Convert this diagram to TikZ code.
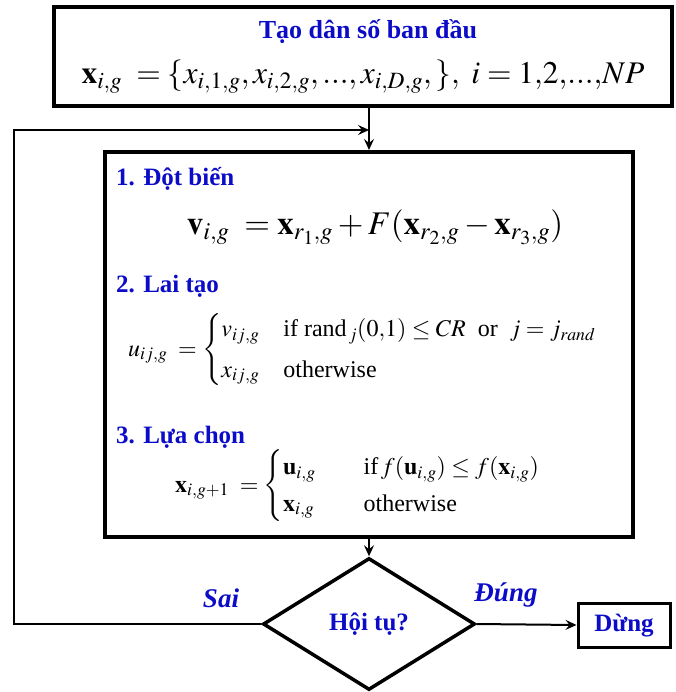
\documentclass[tikz,border=0pt]{standalone}
\usepackage{amsmath}
\usepackage{mathptmx}
\usepackage{fontspec}
\setmainfont{Liberation Serif}
\newfontfamily\tnr{Liberation Serif}
\usetikzlibrary{shapes.geometric,arrows.meta}
\definecolor{hblue}{RGB}{12,12,200}
\tikzset{
  box/.style={draw=black, line width=4pt, rectangle, inner sep=0pt},
  head/.style={text=hblue, inner sep=0pt, font=\tnr\fontsize{25}{29}\selectfont\bfseries},
  lab/.style={text=hblue, inner sep=0pt, font=\tnr\fontsize{27}{30}\selectfont\bfseries\itshape},
  bigmath/.style={inner sep=0pt, font=\tnr\fontsize{31.5}{35}\selectfont},
  vmath/.style={inner sep=0pt, font=\tnr\fontsize{33}{37}\selectfont},
  midmath/.style={inner sep=0pt, font=\tnr\fontsize{24}{28}\selectfont},
  arr/.style={line width=2pt, -{Stealth[length=11pt,width=10pt,inset=4pt]}},
}
\begin{document}
\begin{tikzpicture}[x=1pt,y=-1pt]
\useasboundingbox (0,0) rectangle (675,692);
% boxes
\node[box, minimum width=618pt, minimum height=99pt] (top) at (363,56.5) {};
\node[box, minimum width=528pt, minimum height=385pt] (main) at (369,344.5) {};
\node[draw, line width=3.5pt, diamond, aspect=1.6, minimum width=212pt, minimum height=132pt, inner sep=0pt] (dia) at (369,624) {};
\node[box, line width=3pt, minimum width=92pt, minimum height=44pt] (stop) at (624,625) {};
% texts
\node[head, font=\tnr\fontsize{26}{30}\selectfont\bfseries] (t0) at (368,32) {Tạo dân số ban đầu};
\node[bigmath] (f0) at (363,77) {$\mathbf{x}_{i,g}\;=\{x_{i,1,g},x_{i,2,g},...,x_{i,D,g},\},\ i=1{,}2{,}...{,}NP$};
\node[head, anchor=west] (h1) at (116,179) {1. Đột biến};
\node[vmath] (f1) at (375,227) {$\mathbf{v}_{i,g}\;=\mathbf{x}_{r_1,g}+F(\mathbf{x}_{r_2,g}-\mathbf{x}_{r_3,g})$};
\node[head, anchor=west] (h2) at (116,286) {2. Lai tạo};
\node[midmath, anchor=west] (f2) at (128,350) {$u_{ij,g}\;=\begin{cases} v_{ij,g} & \text{if rand}_{\,j}(0{,}1)\le CR\ \ \text{or}\ \ j=j_{rand}\\[7pt] x_{ij,g} & \text{otherwise}\end{cases}$};
\node[head, anchor=west] (h3) at (116,437) {3. Lựa chọn};
\node[midmath, anchor=west] (f3) at (175,486) {$\mathbf{x}_{i,g+1}\;=\begin{cases}\mathbf{u}_{i,g} & \quad\text{if}\,f(\mathbf{u}_{i,g})\le f(\mathbf{x}_{i,g})\\[3pt] \mathbf{x}_{i,g} & \quad\text{otherwise}\end{cases}$};
\node[text=hblue, inner sep=0pt, font=\tnr\fontsize{25}{29}\selectfont\bfseries] (t4) at (369,624) {Hội tụ?};
\node[text=hblue, inner sep=0pt, font=\tnr\fontsize{25}{29}\selectfont\bfseries] (t5) at (624,626) {Dừng};
\node[lab] (sai) at (221,598) {Sai};
\node[lab] (dung) at (506,595) {Đúng};
% connectors
\coordinate (lpx) at (14,130);
\coordinate (jn) at (369,130);
\draw[arr] (top.south -| main.north) -- (main.north);
\draw[arr] (main.south) -- (dia.north);
\draw[arr] (dia.east) -- (stop.west);
\draw[arr] (dia.west) -| (lpx) -- (jn);
\end{tikzpicture}
\end{document}
